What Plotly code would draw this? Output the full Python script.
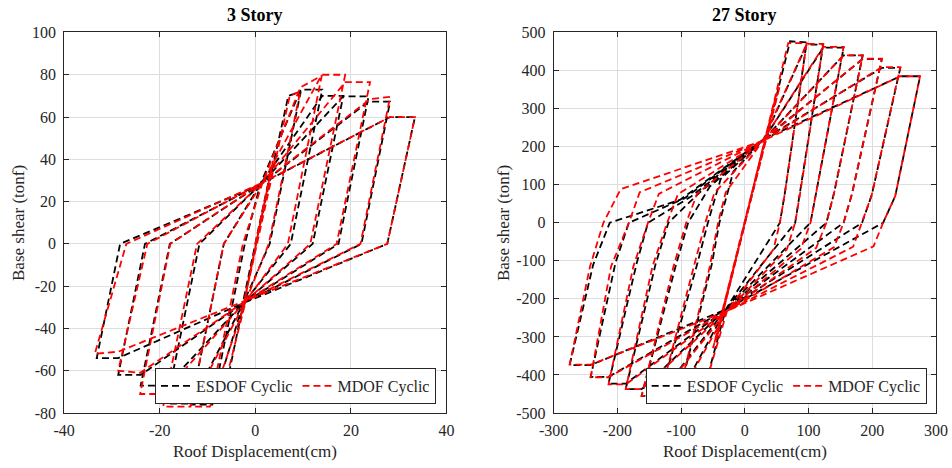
import plotly.graph_objects as go

# ---------------- axis ticks ----------------
s3_xticks = [-40, -20, 0, 20, 40]
s3_xlabels = ["-40", "-20", "0", "20", "40"]
s3_yticks = [-80, -60, -40, -20, 0, 20, 40, 60, 80, 100]
s3_ylabels = ["-80", "-60", "-40", "-20", "0", "20", "40", "60", "80", "100"]
s27_xticks = [-300, -200, -100, 0, 100, 200, 300]
s27_xlabels = ["-300", "-200", "-100", "0", "100", "200", "300"]
s27_yticks = [-500, -400, -300, -200, -100, 0, 100, 200, 300, 400, 500]
s27_ylabels = ["-500", "-400", "-300", "-200", "-100", "0", "100", "200", "300", "400", "500"]

# ---------------- 3 Story, ESDOF ----------------
e3_init_x = [0, 3, -3]
e3_init_y = [0, 32, -32]
e3_pinch_pos = [1, 28]
e3_pinch_neg = [-2.5, -28]
e3_pplat_d = [6.9, 9.5, 14, 18.4, 23.7, 28.2]
e3_pplat_f = [70, 73, 70, 69.8, 67.3, 60]
e3_ppeak_d = [9.5, 14, 18.4, 23.7, 28.2, 33.4]
e3_ppeak_f = [72, 73, 70, 69.8, 67.3, 60]
e3_pzero = [3, 7.4, 12, 17.4, 22.2, 27.6]
e3_nplat_d = [-6.5, -9, -13.5, -18.6, -24, -28.7]
e3_nplat_f = [-72, -76, -75.5, -67, -62, -54]
e3_npeak_d = [-9, -13.5, -18.6, -24, -28.7, -33.2]
e3_npeak_f = [-75, -76, -75.5, -67, -62, -54]
e3_nzero = [-2.2, -6.6, -11.7, -17.9, -23.1, -28.3]

# ---------------- 3 Story, MDOF ----------------
m3_init_x = [0, 3.8, -2.8, 3.5, -2.6]
m3_init_y = [0, 40, -33, 37, -30]
m3_pinch_pos = [1.5, 29]
m3_pinch_neg = [-2, -27]
m3_pplat_d = [7.2, 9.4, 13.9, 18.8, 24, 28.2]
m3_pplat_f = [70, 74, 80, 76.5, 68.5, 60]
m3_ppeak_d = [9.4, 13.9, 18.8, 24, 28.2, 33.4]
m3_ppeak_f = [72.2, 79.6, 80, 76.5, 69.5, 60]
m3_pzero = [2.8, 6.8, 11.5, 17, 22, 27.6]
m3_nplat_d = [-7, -9.5, -13.6, -19.3, -24.1, -28.7]
m3_nplat_f = [-72, -77, -77, -71, -61, -51]
m3_npeak_d = [-9.5, -13.6, -19.3, -24.1, -28.7, -33.6]
m3_npeak_f = [-76, -77, -77, -71, -60, -52]
m3_nzero = [-2.6, -6.6, -12.2, -17.8, -22.6, -27]

# ---------------- 27 Story, ESDOF ----------------
e27_init_x = [0, 30, -28]
e27_init_y = [0, 205, -190]
e27_pinch_pos = [30, 220]
e27_pinch_neg = [-30, -228]
e27_pplat_d = [71, 97, 123, 155, 185, 215, 244]
e27_pplat_f = [477, 468, 460, 440, 430, 407, 385]
e27_ppeak_d = [97, 123, 155, 185, 215, 244, 275]
e27_ppeak_f = [474, 468, 460, 440, 430, 407, 385]
e27_punl_d = [63, 87, 112, 140, 168, 199, 236]
e27_punl_f = [80, 80, 80, 78, 75, 72, 70]
e27_pzero = [55, 79, 103, 128, 155, 184, 217]
e27_nplat_d = [-70, -107, -135, -162, -187, -214, -242]
e27_nplat_f = [-474, -466, -455, -437, -423, -405, -374]
e27_npeak_d = [-107, -135, -162, -187, -214, -242, -275]
e27_npeak_f = [-474, -466, -455, -437, -423, -405, -374]
e27_nunl_d = [-52, -75, -108, -140, -170, -203, -238]
e27_nunl_f = [-110, -110, -110, -108, -108, -105, -110]
e27_nzero = [-40, -58, -89, -120, -152, -182, -212]
e27_pknee_d = [-18, -38, -55, -72, -85, -95, -102]
e27_pknee_f = [135, 115, 95, 78, 68, 64, 60]

# ---------------- 27 Story, MDOF ----------------
m27_init_x = [0, 55, -50, 50, -45]
m27_init_y = [0, 360, -330, 340, -310]
m27_pinch_pos = [28, 215]
m27_pinch_neg = [-28, -232]
m27_pplat_d = [68, 97, 123, 155, 185, 215, 244]
m27_pplat_f = [472, 470, 462, 440, 431, 409, 385]
m27_ppeak_d = [97, 123, 155, 185, 215, 244, 275]
m27_ppeak_f = [472, 470, 462, 440, 431, 409, 385]
m27_punl_d = [63, 87, 112, 140, 168, 199, 236]
m27_punl_f = [80, 80, 80, 78, 75, 72, 70]
m27_pzero = [55, 79, 103, 128, 155, 184, 217]
m27_nknee_d = [45, 66, 88, 112, 140, 170, 202]
m27_nknee_f = [-70, -70, -68, -66, -64, -63, -62]
m27_nplat_d = [-70, -107, -135, -162, -187, -214, -242]
m27_nplat_f = [-472, -468, -455, -437, -425, -406, -373]
m27_npeak_d = [-107, -135, -162, -187, -214, -242, -275]
m27_npeak_f = [-472, -468, -455, -437, -425, -406, -373]
m27_nunl_d = [-55, -80, -112, -145, -175, -210, -243]
m27_nunl_f = [-115, -115, -115, -115, -115, -115, -115]
m27_nzero = [-42, -62, -92, -122, -152, -182, -222]
m27_pknee_d = [-30, -48, -75, -105, -135, -165, -195]
m27_pknee_f = [80, 78, 76, 75, 76, 80, 88]


def build_path(init_x, init_y, pinch_p, pinch_n, pplat_d, pplat_f, ppeak_d, ppeak_f,
               pzero, nplat_d, nplat_f, npeak_d, npeak_f, nzero,
               punl=None, nknee=None, nunl=None, pknee=None):
    xs, ys = list(init_x), list(init_y)

    def add(x, y):
        xs.append(x)
        ys.append(y)

    n = len(ppeak_d)
    for k in range(n):
        if k > 0:
            add(nzero[k - 1], 0)
            if pknee:
                add(pknee[0][k - 1], pknee[1][k - 1])
            add(*pinch_p)
        add(pplat_d[k], pplat_f[k])
        add(ppeak_d[k], ppeak_f[k])
        if punl:
            add(punl[0][k], punl[1][k])
        add(pzero[k], 0)
        if nknee:
            add(nknee[0][k], nknee[1][k])
        add(*pinch_n)
        add(nplat_d[k], nplat_f[k])
        add(npeak_d[k], npeak_f[k])
        if nunl:
            add(nunl[0][k], nunl[1][k])
    add(nzero[-1], 0)
    if pknee:
        add(pknee[0][-1], pknee[1][-1])
    add(*pinch_p)
    return xs, ys


e3x, e3y = build_path(e3_init_x, e3_init_y, e3_pinch_pos, e3_pinch_neg, e3_pplat_d, e3_pplat_f,
                      e3_ppeak_d, e3_ppeak_f, e3_pzero, e3_nplat_d, e3_nplat_f,
                      e3_npeak_d, e3_npeak_f, e3_nzero)
m3x, m3y = build_path(m3_init_x, m3_init_y, m3_pinch_pos, m3_pinch_neg, m3_pplat_d, m3_pplat_f,
                      m3_ppeak_d, m3_ppeak_f, m3_pzero, m3_nplat_d, m3_nplat_f,
                      m3_npeak_d, m3_npeak_f, m3_nzero)
e27x, e27y = build_path(e27_init_x, e27_init_y, e27_pinch_pos, e27_pinch_neg, e27_pplat_d, e27_pplat_f,
                        e27_ppeak_d, e27_ppeak_f, e27_pzero, e27_nplat_d, e27_nplat_f,
                        e27_npeak_d, e27_npeak_f, e27_nzero,
                        punl=(e27_punl_d, e27_punl_f), nunl=(e27_nunl_d, e27_nunl_f),
                        pknee=(e27_pknee_d, e27_pknee_f))
m27x, m27y = build_path(m27_init_x, m27_init_y, m27_pinch_pos, m27_pinch_neg, m27_pplat_d, m27_pplat_f,
                        m27_ppeak_d, m27_ppeak_f, m27_pzero, m27_nplat_d, m27_nplat_f,
                        m27_npeak_d, m27_npeak_f, m27_nzero,
                        punl=(m27_punl_d, m27_punl_f), nknee=(m27_nknee_d, m27_nknee_f),
                        nunl=(m27_nunl_d, m27_nunl_f), pknee=(m27_pknee_d, m27_pknee_f))

FONT = "Liberation Serif, Times New Roman, serif"
DASH = "7px,4px"
LW = 1.8

fig = go.Figure()
fig.add_trace(go.Scatter(x=e3x, y=e3y, mode="lines", name="ESDOF Cyclic",
                         line=dict(color="#000000", width=LW, dash=DASH),
                         xaxis="x", yaxis="y", legend="legend"))
fig.add_trace(go.Scatter(x=m3x, y=m3y, mode="lines", name="MDOF Cyclic",
                         line=dict(color="#ff0000", width=LW, dash=DASH),
                         xaxis="x", yaxis="y", legend="legend"))
fig.add_trace(go.Scatter(x=e27x, y=e27y, mode="lines", name="ESDOF Cyclic",
                         line=dict(color="#000000", width=LW, dash=DASH),
                         xaxis="x2", yaxis="y2", legend="legend2"))
fig.add_trace(go.Scatter(x=m27x, y=m27y, mode="lines", name="MDOF Cyclic",
                         line=dict(color="#ff0000", width=LW, dash=DASH),
                         xaxis="x2", yaxis="y2", legend="legend2"))

axis_common = dict(showline=True, linecolor="#262626", linewidth=1, mirror="ticks",
                   ticks="inside", ticklen=5, tickcolor="#262626", showgrid=True,
                   gridcolor="#dedede", gridwidth=1, zeroline=False, automargin=False,
                   tickmode="array",
                   tickfont=dict(family=FONT, size=16, color="#262626"))

ydom = [0.1175, 0.9306]
fig.update_layout(
    width=952, height=468,
    font=dict(family=FONT, color="#262626"),
    margin=dict(l=0, r=0, t=0, b=0, autoexpand=False),
    paper_bgcolor="white", plot_bgcolor="white",
    xaxis=dict(domain=[0.06744, 0.46901], range=[-40, 40], tickvals=s3_xticks,
               ticktext=s3_xlabels, anchor="y", ticklabelstandoff=3, **axis_common),
    yaxis=dict(domain=ydom, range=[-80, 100], tickvals=s3_yticks,
               ticktext=s3_ylabels, anchor="x", ticklabelstandoff=4, **axis_common),
    xaxis2=dict(domain=[0.58162, 0.98319], range=[-300, 300], tickvals=s27_xticks,
                ticktext=s27_xlabels, anchor="y2", ticklabelstandoff=3, **axis_common),
    yaxis2=dict(domain=ydom, range=[-500, 500], tickvals=s27_yticks,
                ticktext=s27_ylabels, anchor="x2", ticklabelstandoff=4, **axis_common),
    showlegend=True,
    legend=dict(orientation="h", x=0.458, xanchor="right", y=0.1368, yanchor="bottom",
                bgcolor="white", bordercolor="#262626", borderwidth=1,
                font=dict(family=FONT, size=16, color="#262626")),
    legend2=dict(orientation="h", x=0.9734, xanchor="right", y=0.1368, yanchor="bottom",
                 bgcolor="white", bordercolor="#262626", borderwidth=1,
                 font=dict(family=FONT, size=16, color="#262626")),
)

annots = [
    dict(text="<b>3 Story</b>", x=0.2683, y=0.9669, font=dict(size=18)),
    dict(text="<b>27 Story</b>", x=0.7824, y=0.9669, font=dict(size=18)),
    dict(text="Roof Displacement(cm)", x=0.2683, y=0.0342, font=dict(size=17)),
    dict(text="Roof Displacement(cm)", x=0.7824, y=0.0342, font=dict(size=17)),
    dict(text="Base shear (tonf)", x=0.0189, y=0.5235, textangle=-90, font=dict(size=17)),
    dict(text="Base shear (tonf)", x=0.5284, y=0.5235, textangle=-90, font=dict(size=17)),
]
for a in annots:
    a["font"]["family"] = FONT
    a["font"]["color"] = "#000000" if "Story" in a["text"] else "#262626"
    fig.add_annotation(xref="paper", yref="paper", showarrow=False,
                       xanchor="center", yanchor="middle", **a)

fig.write_html("out.html", config={"displayModeBar": False})
